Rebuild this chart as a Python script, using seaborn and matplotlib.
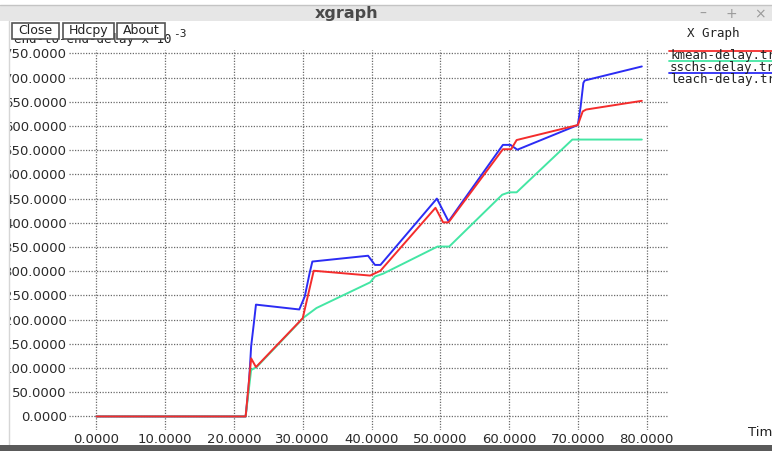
import numpy as np
import pandas as pd
import matplotlib
matplotlib.use("Agg")
import matplotlib.pyplot as plt
from matplotlib.patches import Rectangle
import seaborn as sns

# ---- trace data (time, end-to-end delay x 1e-3) ----
kmean_time = [0, 21.7, 22.5, 23.2, 30.0, 30.6, 31.6, 39.8, 41.3, 49.3, 50.4, 51.2,
              59.1, 60.3, 61.1, 70.0, 70.7, 71.2, 79.3]
kmean_delay = [0, 0, 120, 102, 203, 240, 301, 291, 301, 431, 401, 401,
               552, 552, 571, 602, 630, 634, 652]

sschs_time = [0, 21.7, 22.5, 23.3, 30.2, 32.0, 39.8, 40.5, 41.7, 49.6, 51.3,
              59.0, 60.0, 61.1, 69.2, 70.0, 79.3]
sschs_delay = [0, 0, 96, 102, 205, 224, 277, 289, 295, 351, 351,
               458, 463, 463, 572, 572, 572]

leach_time = [0, 21.7, 22.1, 22.3, 22.5, 22.9, 23.2, 29.5, 30.3, 31.0, 31.4, 39.5,
              40.5, 41.3, 49.5, 51.2, 59.1, 60.2, 61.2, 70.0, 70.4, 70.8, 71.0, 79.3]
leach_delay = [0, 0, 55, 96, 145, 193, 231, 221, 248, 296, 320, 332,
               313, 313, 450, 403, 561, 561, 551, 602, 640, 689, 694, 723]

trace_names = ["kmean-delay.tr", "sschs-delay.tr", "leach-delay.tr"]
trace_colors = ["#f42c2c", "#44e6a4", "#2c2cf4"]

x_ticks = [0, 10, 20, 30, 40, 50, 60, 70, 80]
y_ticks = list(range(0, 751, 50))

frames = []
for name, t, d in zip(trace_names,
                      [kmean_time, sschs_time, leach_time],
                      [kmean_delay, sschs_delay, leach_delay]):
    frames.append(pd.DataFrame({"time": t, "delay": d, "trace": name}))
df = pd.concat(frames, ignore_index=True)

sns.set_style("white")
plt.rcParams["font.family"] = ["DejaVu Sans"]

W, H = 772, 451
fig = plt.figure(figsize=(W / 100, H / 100), dpi=100)
fig.patch.set_facecolor("white")


def fx(x):
    return x / W


def fy(y):
    return 1 - y / H


ax = fig.add_axes([fx(69), fy(430), (669 - 69) / W, (430 - 50) / H])
ax.set_facecolor("white")

sns.lineplot(data=df, x="time", y="delay", hue="trace",
             palette=dict(zip(trace_names, trace_colors)),
             hue_order=trace_names[::-1], sort=False, estimator=None,
             legend=False, linewidth=1.4, ax=ax)

ax.set_xlim(-3.98, 83.25)
ax.set_ylim(-28, 757)
ax.set_xticks(x_ticks)
ax.set_yticks(y_ticks)
ax.set_xticklabels([f"{v:.4f}" for v in x_ticks], fontsize=9.5, color="#2a2a2a")
ax.set_yticklabels([f"{v:.4f}" for v in y_ticks], fontsize=9.5, color="#2a2a2a")
ax.tick_params(axis="both", length=0)
ax.tick_params(axis="y", pad=1.5)
ax.tick_params(axis="x", pad=2.5)
ax.set_xlabel("")
ax.set_ylabel("")
for s in ax.spines.values():
    s.set_visible(False)
ax.grid(True, color="#6a6a6a", linestyle=(0, (1, 1.2)), linewidth=0.9)
ax.set_axisbelow(True)

# ---- window chrome ----
fig.patches.append(Rectangle((0, fy(21)), 1, (21 - 5) / H, transform=fig.transFigure,
                             facecolor="#e6e6e6", edgecolor="none", zorder=0))
fig.add_artist(plt.Line2D([0, 1], [fy(5), fy(5)], transform=fig.transFigure,
                          color="#c4c4c4", lw=1))
fig.text(fx(347), fy(13.5), "xgraph", fontsize=11.5, fontweight="bold",
         color="#4a4a4a", ha="center", va="center")
for xc, sym in [(703, "\u2013"), (731, "+"), (760, "\u00d7")]:
    fig.text(fx(xc), fy(14), sym, fontsize=10, color="#9a9a9a",
             ha="center", va="center")

# left window border hides the start of the tick labels
fig.patches.append(Rectangle((0, fy(445)), fx(10), (445 - 21) / H, transform=fig.transFigure,
                             facecolor="white", edgecolor="none", zorder=5))
fig.add_artist(plt.Line2D([fx(9), fx(9)], [fy(21), fy(445)], transform=fig.transFigure,
                          color="#d6d6d6", lw=1, zorder=6))
# bottom border
fig.patches.append(Rectangle((0, 0), 1, (H - 445) / H, transform=fig.transFigure,
                             facecolor="#5a5a5a", edgecolor="none", zorder=6))

# axis label and title strings
fig.text(fx(14), fy(40), "end-to-end-delay x 10", fontsize=9, family="DejaVu Sans Mono",
         color="#222222", ha="left", va="center")
fig.text(fx(173), fy(34), "-3", fontsize=8, family="DejaVu Sans Mono",
         color="#222222", ha="left", va="center")

for (x0, x1), label in zip([(12, 59), (63, 114), (117, 165)], ["Close", "Hdcpy", "About"]):
    fig.patches.append(Rectangle((fx(x0), fy(39)), (x1 - x0) / W, 16 / H,
                                 transform=fig.transFigure, facecolor="white",
                                 edgecolor="#555555", lw=1.2, zorder=7))
    fig.text(fx((x0 + x1) / 2), fy(30.5), label, fontsize=9, color="#222222",
             ha="center", va="center", zorder=8)

fig.text(fx(687), fy(33), "X Graph", fontsize=9, family="DejaVu Sans Mono",
         color="#222222", ha="left", va="center")

# legend: coloured rule above each trace name
for (ly, ty), name, col in zip([(50.5, 55), (61, 67), (73, 79)], trace_names, trace_colors):
    fig.add_artist(plt.Line2D([fx(669), 1], [fy(ly), fy(ly)], transform=fig.transFigure,
                              color=col, lw=1.3))
    fig.text(fx(670), fy(ty), name, fontsize=9, family="DejaVu Sans Mono",
             color="#222222", ha="left", va="center")

fig.text(fx(748), fy(433), "Time", fontsize=9.5, color="#222222", ha="left", va="center")

fig.savefig("out.png", dpi=100)
